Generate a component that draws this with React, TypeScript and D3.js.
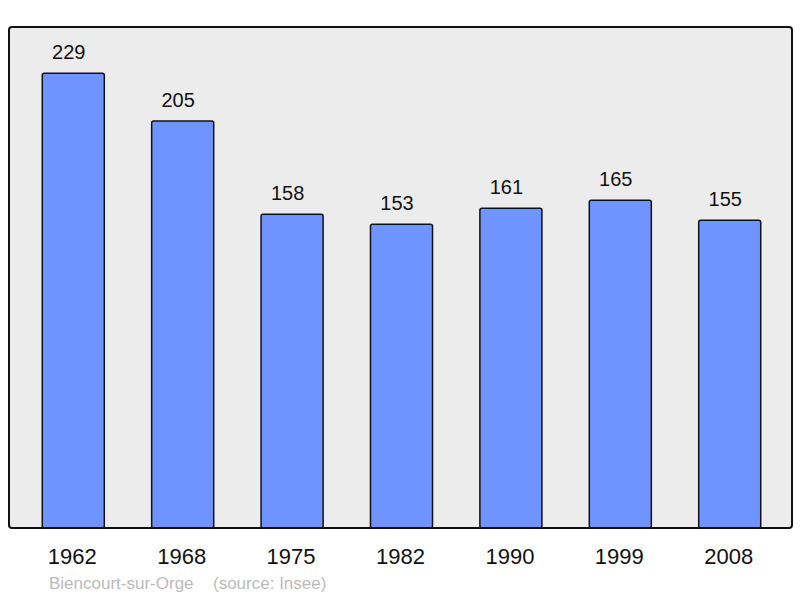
import React, { useEffect, useRef } from 'react';
import * as d3 from 'd3';

const years = ['1962', '1968', '1975', '1982', '1990', '1999', '2008'];
const population = [229, 205, 158, 153, 161, 165, 155];
const townName = 'Biencourt-sur-Orge';
const sourceNote = '(source: Insee)';

const FONT = '"Liberation Sans", Arial, sans-serif';

const App = () => {
  const ref = useRef<SVGSVGElement | null>(null);

  useEffect(() => {
    const panel = { left: 9, top: 27, right: 792, bottom: 528 };

    const svg = d3.select(ref.current);
    svg.selectAll('*').remove();

    // Plot background
    svg.append('rect')
      .attr('x', panel.left)
      .attr('y', panel.top)
      .attr('width', panel.right - panel.left)
      .attr('height', panel.bottom - panel.top)
      .attr('rx', 3)
      .attr('fill', '#ececec');

    const xScale = d3.scaleBand()
      .domain(years)
      .range([panel.left + 1, panel.right + 1])
      .paddingInner(0.433)
      .paddingOuter(0.295);

    const yScale = d3.scaleLinear()
      .domain([0, 252.3])
      .range([panel.bottom, panel.top]);

    // Bars
    svg.selectAll('.bar')
      .data(population)
      .enter().append('rect')
      .attr('class', 'bar')
      .attr('x', (d, i) => xScale(years[i]) as number)
      .attr('y', d => yScale(d))
      .attr('width', xScale.bandwidth())
      .attr('height', d => panel.bottom - yScale(d))
      .attr('rx', 2)
      .attr('fill', '#7094ff')
      .attr('stroke', '#111')
      .attr('stroke-width', 1.5);

    // Value labels (sit a little left of bar centre, as in the source)
    svg.selectAll('.bar-label')
      .data(population)
      .enter().append('text')
      .attr('class', 'bar-label')
      .attr('x', (d, i) => (xScale(years[i]) as number) + xScale.bandwidth() / 2 - 4.5)
      .attr('y', d => yScale(d) - 14)
      .attr('text-anchor', 'middle')
      .style('font-family', FONT)
      .style('font-size', '20px')
      .attr('fill', '#111')
      .text(d => d);

    // Panel border on top
    svg.append('rect')
      .attr('x', panel.left)
      .attr('y', panel.top)
      .attr('width', panel.right - panel.left)
      .attr('height', panel.bottom - panel.top)
      .attr('rx', 3)
      .attr('fill', 'none')
      .attr('stroke', '#111')
      .attr('stroke-width', 2);

    // Year labels
    svg.selectAll('.year-label')
      .data(years)
      .enter().append('text')
      .attr('class', 'year-label')
      .attr('x', d => (xScale(d) as number) + xScale.bandwidth() / 2 - 1)
      .attr('y', 564)
      .attr('text-anchor', 'middle')
      .style('font-family', FONT)
      .style('font-size', '22px')
      .attr('fill', '#111')
      .text(d => d);

    // Footer
    svg.append('text')
      .attr('x', 49)
      .attr('y', 589)
      .style('font-family', FONT)
      .style('font-size', '17px')
      .attr('fill', '#bbbbbb')
      .text(townName);

    svg.append('text')
      .attr('x', 213)
      .attr('y', 589)
      .style('font-family', FONT)
      .style('font-size', '17px')
      .attr('fill', '#bbbbbb')
      .text(sourceNote);
  }, []);

  return (
    <svg
      ref={ref}
      width={800}
      height={598}
      style={{ position: 'absolute', left: 0, top: 0, background: '#fff' }}
    />
  );
};

export default App;
